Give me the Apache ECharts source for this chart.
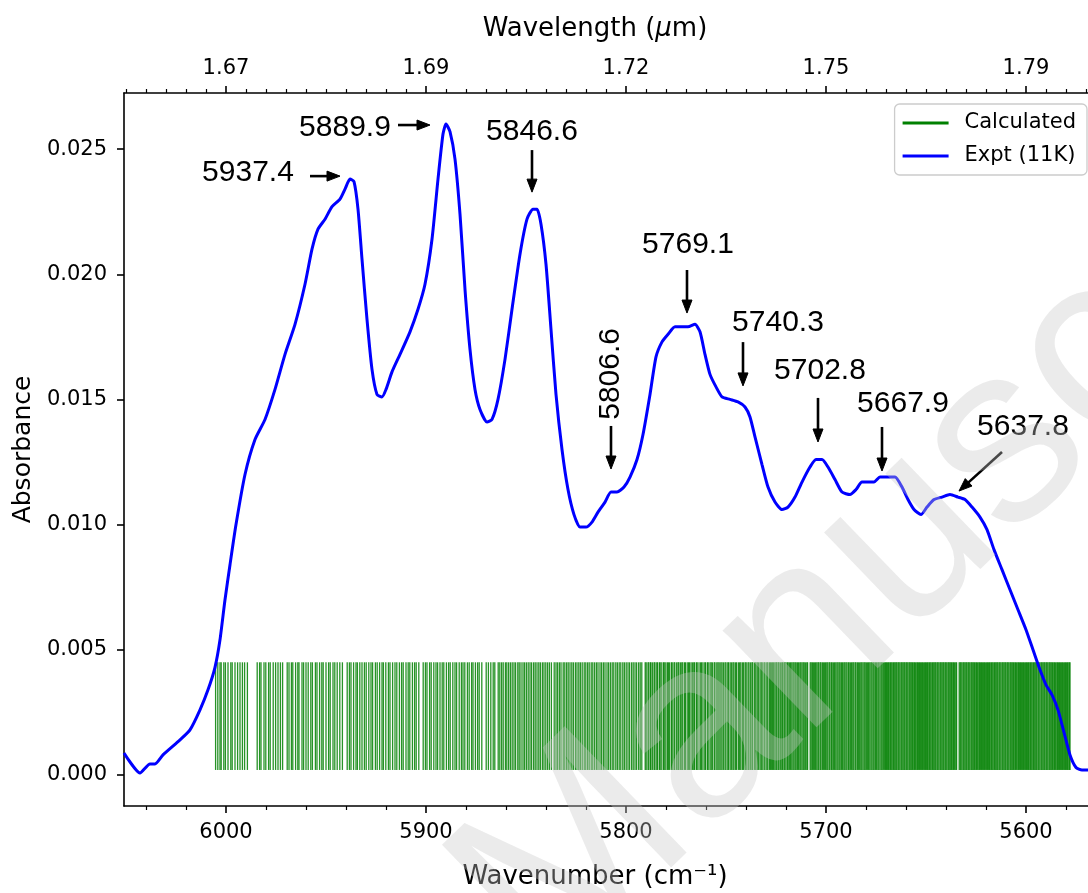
<!DOCTYPE html>
<html>
<head>
<meta charset="utf-8">
<script src="https://cdn.jsdelivr.net/npm/echarts@6/dist/echarts.min.js"></script>
<style>
html,body{margin:0;padding:0;background:#fff;}
#c{width:1088px;height:893px;}
</style>
</head>
<body>
<div id="c"></div>
<script>
// ---------------- DATA ----------------
// Experimental spectrum (11 K): wavenumber (cm^-1) and absorbance
const wavenumber = [6051, 6043, 6038, 6035.5, 6031.5, 6023, 6018, 6013, 6009, 6005.5,
  6003, 6000.5, 5998, 5995, 5990.5, 5985.5, 5980.5, 5975.5, 5970.5, 5965.5,
  5960.5, 5957, 5954, 5950.5, 5947, 5943, 5940.5, 5938, 5936, 5934,
  5932, 5929.5, 5927, 5924.5, 5922, 5920, 5917, 5913, 5908, 5904,
  5900.5, 5897, 5894, 5891.5, 5890, 5888, 5885.5, 5883, 5880.5, 5878,
  5875.5, 5873, 5869.5, 5867, 5864, 5860.5, 5857, 5853, 5849.5, 5846.5,
  5844.5, 5842.5, 5840, 5837.5, 5835, 5832, 5829, 5826, 5823, 5820,
  5817, 5814, 5810.5, 5807.5, 5804.5, 5801, 5798, 5794.5, 5791.5, 5788,
  5785, 5782, 5779, 5775.5, 5772, 5769, 5765.5, 5763, 5760.5, 5758,
  5755, 5752, 5748, 5744, 5740.5, 5738, 5735.5, 5732, 5729, 5725.5,
  5722, 5719, 5715.5, 5712, 5708, 5705, 5702, 5699, 5695.5, 5692,
  5688, 5685, 5682, 5679, 5676, 5673, 5669, 5665.5, 5662, 5659,
  5656, 5652.5, 5649.5, 5646, 5642, 5638, 5634, 5630.5, 5627, 5623,
  5619.5, 5616, 5612, 5608, 5604, 5600, 5596.5, 5593, 5590, 5587,
  5584, 5581, 5578, 5575, 5572, 5569];
const absorbance = [0.00088, 0.00008, 0.00044, 0.00044, 0.0008, 0.0014, 0.0018, 0.0026, 0.0034, 0.0043,
  0.0054, 0.0070, 0.0084, 0.0100, 0.0120, 0.0134, 0.0142, 0.0154, 0.0168, 0.0180,
  0.0196, 0.0210, 0.0218, 0.0222, 0.0227, 0.0230, 0.0234, 0.0238, 0.0237, 0.0226,
  0.0206, 0.0182, 0.0162, 0.0152, 0.0151, 0.0154, 0.0161, 0.0168, 0.0177, 0.0186,
  0.0196, 0.0214, 0.0238, 0.0256, 0.0260, 0.0257, 0.0246, 0.0224, 0.0194, 0.0170,
  0.0154, 0.0146, 0.0141, 0.0142, 0.0150, 0.0166, 0.0186, 0.0208, 0.0222, 0.0226,
  0.0226, 0.0220, 0.0204, 0.0178, 0.0152, 0.0130, 0.0114, 0.0104, 0.0099, 0.0099,
  0.0101, 0.0105, 0.0109, 0.0113, 0.0113, 0.0115, 0.0119, 0.0126, 0.0136, 0.0152,
  0.0167, 0.0173, 0.0176, 0.0179, 0.0179, 0.0179, 0.0180, 0.0177, 0.0168, 0.0160,
  0.0155, 0.0151, 0.0150, 0.0149, 0.0147, 0.0143, 0.0135, 0.0124, 0.0115, 0.0109,
  0.0106, 0.0107, 0.0111, 0.0117, 0.0123, 0.0126, 0.0126, 0.0123, 0.0118, 0.0113,
  0.0112, 0.0114, 0.0117, 0.0117, 0.0117, 0.0119, 0.0119, 0.0119, 0.0115, 0.0110,
  0.0106, 0.0104, 0.0107, 0.0110, 0.0111, 0.0112, 0.0111, 0.0110, 0.0107, 0.0103,
  0.0098, 0.0090, 0.0082, 0.0074, 0.0066, 0.0058, 0.0050, 0.0042, 0.0036, 0.0032,
  0.0026, 0.0017, 0.0008, 0.0003, 0.0002, 0.0002];

// Calculated line positions (cm^-1), drawn as sticks
const calcLines = [
  6005.2, 6004.1, 6003.0, 6002.4, 6001.1, 6000.3, 5999.0, 5997.6, 5996.9, 5995.5, 5994.2, 5993.0, 5991.8, 5990.7, 5989.3,
  5984.4, 5983.2, 5982.5, 5981.0, 5980.1, 5978.7, 5977.9, 5976.4, 5975.2, 5974.0, 5972.8, 5971.7,
  5969.4, 5968.5, 5967.3, 5966.6, 5965.2, 5964.1, 5963.5, 5962.0, 5961.2, 5960.0, 5958.9, 5957.6, 5956.8, 5955.3, 5954.5,
  5953.2, 5952.1, 5951.4, 5950.0, 5948.7, 5947.9, 5946.5, 5945.6, 5944.4, 5943.1, 5941.8,
  5939.4, 5938.3, 5937.5, 5936.2, 5935.0, 5934.3, 5933.1, 5932.0, 5930.8, 5929.9, 5928.6, 5927.5, 5926.7, 5925.3, 5924.4,
  5923.2, 5922.0, 5921.3, 5920.1, 5918.8, 5918.0, 5916.7, 5915.5, 5914.6, 5913.3, 5912.2, 5911.4, 5910.0, 5908.9, 5908.1,
  5906.8, 5905.7, 5904.9, 5903.6,
  5901.4, 5900.3, 5899.5, 5898.2, 5897.4, 5896.1, 5895.0, 5894.2, 5893.0, 5891.9, 5891.1, 5889.8, 5888.7, 5887.9, 5886.6,
  5885.5, 5884.7, 5883.4, 5882.3, 5881.5, 5880.6,
  5879.3, 5878.4, 5877.2, 5876.5, 5875.3, 5874.2, 5873.4, 5872.1,
  5869.9, 5868.8, 5867.6, 5866.4, 5865.6,
  5863.9, 5863.1, 5862.2, 5861.4, 5860.3, 5859.6, 5858.7, 5857.8, 5856.9, 5856.0, 5855.2, 5854.1, 5853.4, 5852.5, 5851.5,
  5850.7, 5849.8, 5848.9, 5848.0, 5847.2, 5846.2, 5845.4, 5844.5, 5843.6, 5842.8, 5841.8, 5841.0, 5840.1, 5839.2, 5838.3, 5837.3,
  5835.9, 5835.0, 5834.2, 5833.3, 5832.5, 5831.4, 5830.6, 5829.7, 5828.9, 5828.0, 5827.1, 5826.3, 5825.3, 5824.5, 5823.6,
  5822.8, 5821.9, 5820.9, 5820.1, 5819.2, 5818.4, 5817.4, 5816.6, 5815.7, 5814.8, 5814.0, 5813.0, 5812.2, 5811.3, 5810.5,
  5809.5, 5808.7, 5807.8, 5806.9, 5806.1, 5805.1, 5804.3, 5803.4, 5802.6, 5801.6, 5800.8, 5799.9, 5799.0, 5798.2, 5797.2,
  5796.4, 5795.5, 5794.7, 5793.7, 5792.9, 5792.1,
  5790.4, 5789.9, 5789.0, 5788.6, 5787.8, 5787.5, 5786.7, 5785.9, 5785.5, 5784.6, 5784.2, 5783.3, 5782.9, 5782.1, 5781.2,
  5780.9, 5780.1, 5779.3, 5778.8, 5778.2, 5777.3, 5776.9, 5776.0, 5775.6, 5774.7, 5774.0, 5773.6, 5772.8, 5772.1, 5771.6,
  5770.7, 5770.3, 5769.4, 5768.7, 5768.3, 5767.5, 5766.8, 5766.1, 5765.7, 5764.8, 5764.4, 5763.5, 5762.7, 5762.2, 5761.5,
  5760.6, 5760.2, 5759.3, 5758.9, 5758.0, 5757.4, 5756.8, 5755.9, 5755.5, 5754.6, 5754.0, 5753.4, 5752.6, 5752.0, 5751.3,
  5750.5, 5750.0, 5749.1, 5748.7, 5747.9, 5747.2, 5746.5, 5746.0, 5745.2, 5744.7, 5743.8, 5743.2, 5742.6, 5741.8, 5741.2,
  5740.4, 5739.9, 5739.0, 5738.5, 5737.7, 5737.0, 5736.6, 5735.7, 5735.1, 5734.4, 5733.8, 5733.0, 5732.4, 5731.9, 5731.0,
  5730.5, 5729.6, 5729.1, 5728.3,
  5727.8, 5727.3, 5726.7, 5726.3, 5725.6, 5725.0, 5724.6, 5723.9, 5723.5, 5722.8, 5722.1, 5721.7, 5721.0, 5720.6, 5720.0,
  5719.3, 5718.9, 5718.2, 5717.7, 5717.1, 5716.5, 5716.0, 5715.4, 5714.9, 5714.2, 5713.8, 5713.1, 5712.6, 5712.0, 5711.4,
  5710.9, 5710.3, 5709.6, 5709.2,
  5707.9, 5707.4, 5706.8, 5706.3, 5705.7, 5705.2, 5704.6, 5704.0, 5703.6, 5702.9, 5702.5, 5701.8, 5701.3, 5700.7, 5700.2,
  5699.6, 5699.1, 5698.4, 5698.0, 5697.3, 5696.9, 5696.2, 5695.7, 5695.1, 5694.5, 5694.0, 5693.4, 5692.9, 5692.2, 5691.8,
  5691.1, 5690.6, 5690.0, 5689.5, 5688.8, 5688.4, 5687.7, 5687.2, 5686.6, 5686.1, 5685.4, 5685.0, 5684.3, 5683.8, 5683.2,
  5682.6, 5682.1, 5681.5, 5680.9, 5680.4, 5679.8, 5679.2, 5678.7, 5678.1, 5677.5, 5677.0, 5676.4, 5675.9, 5675.2, 5674.8,
  5674.1, 5673.6, 5673.0, 5672.4, 5671.9, 5671.3, 5670.7,
  5670.2, 5669.8, 5669.3, 5668.8, 5668.4, 5667.8, 5667.4, 5666.9, 5666.3, 5665.9, 5665.4, 5664.9, 5664.5, 5663.9, 5663.5,
  5663.0, 5662.4, 5662.0, 5661.5, 5661.0, 5660.6, 5660.0, 5659.6, 5659.1, 5658.5, 5658.1, 5657.6, 5657.1, 5656.7, 5656.1,
  5655.7, 5655.2, 5654.6, 5654.2, 5653.7, 5653.2, 5652.8, 5652.2, 5651.8, 5651.3, 5650.7, 5650.3, 5649.8, 5649.3, 5648.9,
  5648.3, 5647.9, 5647.4, 5646.8, 5646.4, 5645.9, 5645.4, 5645.0, 5644.4, 5644.0, 5643.5, 5642.9, 5642.5, 5642.0, 5641.5,
  5641.1, 5640.5, 5640.1, 5639.6, 5639.0, 5638.6, 5638.1, 5637.6, 5637.2, 5636.6, 5636.2, 5635.7, 5635.1, 5634.7,
  5633.4, 5632.9, 5632.5, 5632.0, 5631.4, 5631.0, 5630.5, 5630.0, 5629.6, 5629.0, 5628.6, 5628.1, 5627.5, 5627.1, 5626.6,
  5626.1, 5625.7, 5625.1, 5624.7, 5624.2, 5623.6, 5623.2, 5622.7, 5622.2, 5621.8, 5621.2, 5620.8, 5620.3, 5619.7, 5619.3,
  5618.8, 5618.3, 5617.9, 5617.3, 5616.9, 5616.4, 5615.8, 5615.4, 5614.9, 5614.4, 5614.0, 5613.4, 5613.0, 5612.5, 5611.9,
  5611.5, 5611.0, 5610.5, 5610.1, 5609.5, 5609.1, 5608.6, 5608.0, 5607.6, 5607.1, 5606.6, 5606.2, 5605.6, 5605.2, 5604.7,
  5604.1, 5603.7, 5603.2, 5602.7, 5602.3, 5601.7, 5601.3, 5600.8, 5600.2, 5599.8, 5599.3, 5598.8, 5598.4, 5597.8, 5597.4,
  5596.9, 5596.3, 5595.9, 5595.4, 5594.9, 5594.5, 5593.9, 5593.5, 5593.0, 5592.4, 5592.0, 5591.5, 5591.0, 5590.6, 5590.0,
  5589.6, 5589.1, 5588.5, 5588.1, 5587.6, 5587.1, 5586.7, 5586.1, 5585.7, 5585.2, 5584.6, 5584.2, 5583.7, 5583.2, 5582.8,
  5582.2, 5581.8, 5581.3, 5580.7, 5580.3, 5579.8, 5579.3, 5578.9, 5578.3, 5578.0
];
const stickBottom = 0.0002;   // absorbance at stick base
const stickTop = 0.0045;      // absorbance at stick top

// Peak annotations
const annotText   = ['5937.4', '5889.9', '5846.6', '5806.6', '5769.1', '5740.3', '5702.8', '5667.9', '5637.8'];
const annotWn     = [5989, 5940.5, 5847, 5807.5, 5769, 5724, 5703, 5661.5, 5601.5];
const annotAbs    = [0.02404, 0.02584, 0.02568, 0.01602, 0.02117, 0.01805, 0.01614, 0.01482, 0.0139];
const annotRotate = [0, 0, 0, 90, 0, 0, 0, 0, 0];
const arrowFromWn  = [5958, 5914, 5847, 5807.5, 5769.5, 5741.5, 5704, 5672, 5612];
const arrowFromAbs = [0.02392, 0.02596, 0.02496, 0.01394, 0.02017, 0.01729, 0.01506, 0.0139, 0.0129];
const arrowToWn    = [5943, 5898, 5847, 5807.5, 5769.5, 5741.5, 5704, 5672, 5633.5];
const arrowToAbs   = [0.02392, 0.02596, 0.02328, 0.01222, 0.01845, 0.01554, 0.0133, 0.01214, 0.01134];

// Axis ticks
const xMajorTicks = [6000, 5900, 5800, 5700, 5600];
const yTicks = [0, 0.005, 0.010, 0.015, 0.020, 0.025];
const X_MIN = 5566, X_MAX = 6051;
const Y_MIN = -0.00124, Y_MAX = 0.02724;

// ---------------- CHART ----------------
const bottomMinor = [], topMinor = [];
for (let v = 5570; v <= 6050; v += 10) {
  if (v % 100 !== 0) topMinor.push(v);
  if (v % 20 === 0 && v % 100 !== 0) bottomMinor.push(v);
}

const FONT = '"DejaVu Sans", sans-serif';
const ANN_FONT = '"Liberation Sans", Arial, sans-serif';
const black = '#000';

function baseX(pos) {
  return {
    type: 'value', min: X_MIN, max: X_MAX, inverse: true, position: pos, gridIndex: 0,
    splitLine: {show: false},
    axisLine: {show: false, onZero: false},
    axisTick: {show: false},
    axisLabel: {show: false}
  };
}

const xBottom = Object.assign(baseX('bottom'), {
  axisLine: {show: true, onZero: false, lineStyle: {color: black, width: 1.6}},
  axisTick: {show: true, inside: false, length: 7, customValues: xMajorTicks, lineStyle: {color: black, width: 1.6}},
  axisLabel: {show: true, customValues: xMajorTicks, margin: 16, fontSize: 21, fontFamily: FONT, color: black,
    formatter: v => String(v)},
  name: 'Wavenumber (cm⁻¹)', nameLocation: 'middle', nameGap: 58,
  nameTextStyle: {fontSize: 26, fontFamily: FONT, color: black, padding: [0, 28, 0, 0]}
});
const xBottomMinor = Object.assign(baseX('bottom'), {
  axisTick: {show: true, inside: false, length: 4, customValues: bottomMinor, lineStyle: {color: black, width: 1.2}}
});
const xTop = Object.assign(baseX('top'), {
  axisLine: {show: true, onZero: false, lineStyle: {color: black, width: 1.6}},
  axisTick: {show: true, inside: false, length: 7, customValues: xMajorTicks, lineStyle: {color: black, width: 1.6}},
  axisLabel: {show: true, customValues: xMajorTicks, margin: 14, fontSize: 21, fontFamily: FONT, color: black,
    formatter: v => (1e4 / v).toFixed(2)},
  name: 'Wavelength ({it|μ}m)', nameLocation: 'middle', nameGap: 51,
  nameTextStyle: {fontSize: 26, fontFamily: FONT, color: black, padding: [0, 28, 0, 0],
    rich: {it: {fontSize: 26, fontFamily: FONT, fontStyle: 'italic', color: black}}}
});
const xTopMinor = Object.assign(baseX('top'), {
  axisTick: {show: true, inside: false, length: 4, customValues: topMinor, lineStyle: {color: black, width: 1.2}}
});

const option = {
  backgroundColor: '#fff',
  animation: false,
  grid: {left: 124, top: 93, width: 970, height: 713, containLabel: false, outerBoundsMode: 'none'},
  xAxis: [xBottom, xBottomMinor, xTop, xTopMinor],
  yAxis: [{
    type: 'value', min: Y_MIN, max: Y_MAX, position: 'left',
    splitLine: {show: false},
    axisLine: {show: true, onZero: false, lineStyle: {color: black, width: 1.6}},
    axisTick: {show: true, inside: false, length: 7, customValues: yTicks, lineStyle: {color: black, width: 1.6}},
    axisLabel: {show: true, customValues: yTicks, margin: 17, fontSize: 21, fontFamily: FONT, color: black,
      formatter: v => v.toFixed(3)},
    name: 'Absorbance', nameLocation: 'middle', nameGap: 86,
    nameTextStyle: {fontSize: 25, fontFamily: FONT, color: black}
  }],
  legend: {
    orient: 'vertical', right: 1, top: 104,
    backgroundColor: '#fff', borderColor: '#cccccc', borderWidth: 1.3, borderRadius: 5,
    padding: [8, 11, 8, 8], itemGap: 11, itemWidth: 46, itemHeight: 3,
    textStyle: {fontSize: 21, fontFamily: FONT, color: black, padding: [0, 0, 0, 11], lineHeight: 22},
    data: [
      {name: 'Calculated', icon: 'rect', itemStyle: {color: '#008000'}},
      {name: 'Expt (11K)', icon: 'rect', itemStyle: {color: '#0000ff'}}
    ]
  },
  series: [
    {
      name: 'Calculated', type: 'custom', xAxisIndex: 0, yAxisIndex: 0, z: 2, clip: true,
      itemStyle: {color: '#008000'},
      encode: {x: 0, y: 1},
      data: calcLines.map(v => [v, stickTop]),
      renderItem: function (params, api) {
        const wn = api.value(0);
        const p1 = api.coord([wn, stickBottom]);
        const p2 = api.coord([wn, stickTop]);
        return {type: 'line', shape: {x1: p1[0], y1: p1[1], x2: p2[0], y2: p2[1]},
          style: {stroke: 'rgba(0,128,0,0.85)', lineWidth: 1.3}};
      }
    },
    {
      name: 'Expt (11K)', type: 'line', xAxisIndex: 0, yAxisIndex: 0, z: 3,
      data: wavenumber.map((w, i) => [w, absorbance[i]]),
      showSymbol: false, smooth: 0.2,
      lineStyle: {color: '#0000ff', width: 3},
      itemStyle: {color: '#0000ff'}
    },
    {
      name: 'arrows', type: 'custom', xAxisIndex: 0, yAxisIndex: 0, z: 4,
      encode: {x: [0, 2], y: [1, 3]},
      data: arrowFromWn.map((w, i) => [w, arrowFromAbs[i], arrowToWn[i], arrowToAbs[i]]),
      renderItem: function (params, api) {
        const a = api.coord([api.value(0), api.value(1)]);
        const b = api.coord([api.value(2), api.value(3)]);
        const dx = b[0] - a[0], dy = b[1] - a[1];
        const len = Math.sqrt(dx * dx + dy * dy);
        const ux = dx / len, uy = dy / len;
        const nx = -uy, ny = ux;
        const L = 13, W = 5;
        const bx = b[0] - ux * L, by = b[1] - uy * L;
        return {type: 'group', children: [
          {type: 'line', shape: {x1: a[0], y1: a[1], x2: bx + ux * 2, y2: by + uy * 2},
            style: {stroke: black, lineWidth: 2.6}},
          {type: 'polygon', shape: {points: [[b[0], b[1]], [bx + nx * W, by + ny * W], [bx - nx * W, by - ny * W]]},
            style: {fill: black, stroke: black, lineWidth: 1}}
        ]};
      }
    },
    {
      name: 'labels', type: 'custom', xAxisIndex: 0, yAxisIndex: 0, z: 4,
      encode: {x: 0, y: 1},
      data: annotWn.map((w, i) => [w, annotAbs[i], i]),
      renderItem: function (params, api) {
        const i = api.value(2);
        const p = api.coord([api.value(0), api.value(1)]);
        return {type: 'text', x: p[0], y: p[1], rotation: annotRotate[i] * Math.PI / 180,
          style: {text: annotText[i], fontSize: 30, fontFamily: ANN_FONT, fill: black,
            align: 'center', verticalAlign: 'middle'}};
      }
    }
  ],
  graphic: [{
    type: 'text', x: 500, y: 935, rotation: 44 * Math.PI / 180, z: 100, silent: true,
    style: {text: 'Manuscript', font: '255px "Liberation Sans", Arial, sans-serif',
      fill: 'rgba(200,200,200,0.36)', align: 'left', verticalAlign: 'middle'}
  }]
};

const chart = echarts.init(document.getElementById('c'), null, {renderer: 'canvas'});
chart.setOption(option);
</script>
</body>
</html>
